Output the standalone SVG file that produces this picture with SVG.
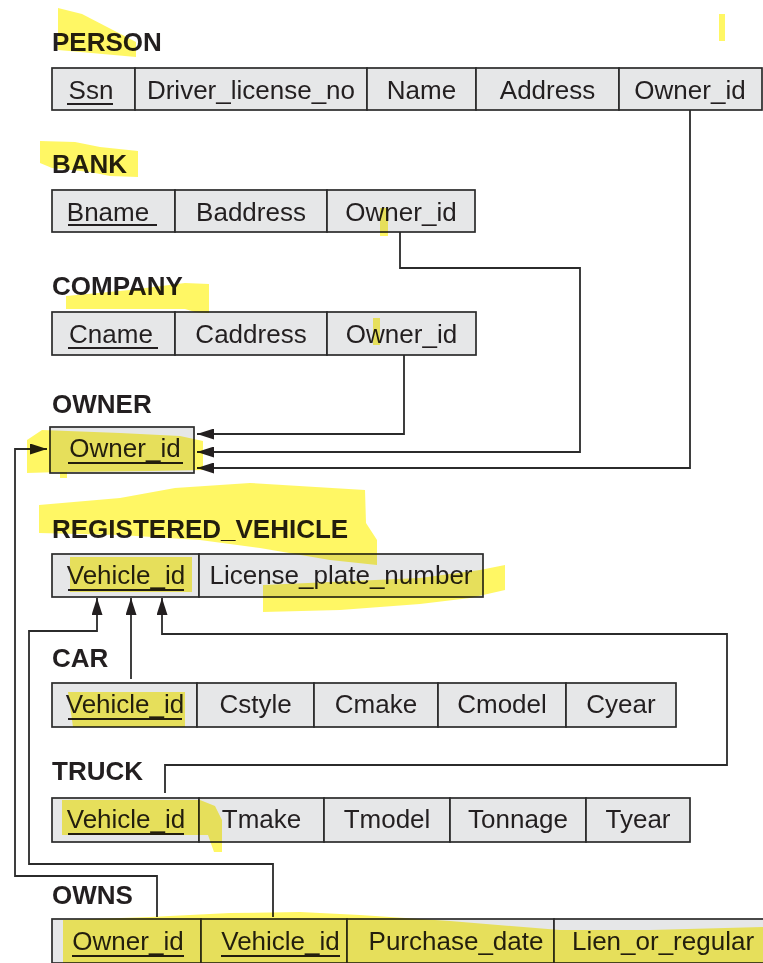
<svg xmlns="http://www.w3.org/2000/svg" width="763" height="963" viewBox="0 0 763 963">
<style>
.title{font-family:"Liberation Sans",Arial,sans-serif;font-weight:bold;font-size:26px;fill:#231f20}
.cell{fill:#e6e7e8;stroke:#2b2b2b;stroke-width:1.7}
.t{font-family:"Liberation Sans",Arial,sans-serif;font-size:26px;fill:#231f20;text-anchor:middle}
.ul{stroke:#231f20;stroke-width:2}
.conn{fill:none;stroke:#2b2b2b;stroke-width:1.8}
.hl{fill:#fff31a;fill-opacity:0.68;mix-blend-mode:multiply}
</style>
<defs>
<marker id="arr" markerUnits="userSpaceOnUse" markerWidth="17" markerHeight="11" refX="17" refY="5.5" orient="auto">
<path d="M0,0 L17,5.5 L0,11 z" fill="#231f20"/>
</marker>
</defs>
<rect width="763" height="963" fill="#ffffff"/>

<g id="person">
<text class="title" x="52" y="51">PERSON</text>
<rect class="cell" x="52" y="68" width="83" height="42"/>
<rect class="cell" x="135" y="68" width="232" height="42"/>
<rect class="cell" x="367" y="68" width="109" height="42"/>
<rect class="cell" x="476" y="68" width="143" height="42"/>
<rect class="cell" x="619" y="68" width="143" height="42"/>
<text class="t" x="91" y="99">Ssn</text>
<line class="ul" x1="67" y1="104" x2="113" y2="104"/>
<text class="t" x="251" y="99">Driver_license_no</text>
<text class="t" x="421.5" y="99">Name</text>
<text class="t" x="547.5" y="99">Address</text>
<text class="t" x="690" y="99">Owner_id</text>
</g>

<g id="bank">
<text class="title" x="52" y="173">BANK</text>
<rect class="cell" x="52" y="190" width="123" height="42"/>
<rect class="cell" x="175" y="190" width="152" height="42"/>
<rect class="cell" x="327" y="190" width="148" height="42"/>
<text class="t" x="108" y="221">Bname</text>
<line class="ul" x1="68" y1="225" x2="157" y2="225"/>
<text class="t" x="251" y="221">Baddress</text>
<text class="t" x="401" y="221">Owner_id</text>
</g>

<g id="company">
<text class="title" x="52" y="295">COMPANY</text>
<rect class="cell" x="52" y="312" width="123" height="43"/>
<rect class="cell" x="175" y="312" width="152" height="43"/>
<rect class="cell" x="327" y="312" width="149" height="43"/>
<text class="t" x="111" y="343">Cname</text>
<line class="ul" x1="68" y1="348" x2="158" y2="348"/>
<text class="t" x="251" y="343">Caddress</text>
<text class="t" x="401.5" y="343">Owner_id</text>
</g>

<g id="owner">
<text class="title" x="52" y="413">OWNER</text>
<rect class="cell" x="50" y="427" width="144" height="46"/>
<text class="t" x="125" y="457">Owner_id</text>
<line class="ul" x1="68" y1="463" x2="183" y2="463"/>
</g>

<g id="registered_vehicle">
<text class="title" x="52" y="538">REGISTERED_VEHICLE</text>
<rect class="cell" x="52" y="554" width="147" height="43"/>
<rect class="cell" x="199" y="554" width="284" height="43"/>
<text class="t" x="126" y="584">Vehicle_id</text>
<line class="ul" x1="68" y1="590" x2="184" y2="590"/>
<text class="t" x="341" y="584">License_plate_number</text>
</g>

<g id="car">
<text class="title" x="52" y="667">CAR</text>
<rect class="cell" x="52" y="683" width="145" height="44"/>
<rect class="cell" x="197" y="683" width="117" height="44"/>
<rect class="cell" x="314" y="683" width="124" height="44"/>
<rect class="cell" x="438" y="683" width="128" height="44"/>
<rect class="cell" x="566" y="683" width="110" height="44"/>
<text class="t" x="125" y="713">Vehicle_id</text>
<line class="ul" x1="68" y1="719" x2="182" y2="719"/>
<text class="t" x="255.5" y="713">Cstyle</text>
<text class="t" x="376" y="713">Cmake</text>
<text class="t" x="502" y="713">Cmodel</text>
<text class="t" x="621" y="713">Cyear</text>
</g>

<g id="truck">
<text class="title" x="52" y="780">TRUCK</text>
<rect class="cell" x="52" y="798" width="147" height="44"/>
<rect class="cell" x="199" y="798" width="125" height="44"/>
<rect class="cell" x="324" y="798" width="126" height="44"/>
<rect class="cell" x="450" y="798" width="136" height="44"/>
<rect class="cell" x="586" y="798" width="104" height="44"/>
<text class="t" x="126" y="828">Vehicle_id</text>
<line class="ul" x1="68" y1="834" x2="184" y2="834"/>
<text class="t" x="261.5" y="828">Tmake</text>
<text class="t" x="387" y="828">Tmodel</text>
<text class="t" x="518" y="828">Tonnage</text>
<text class="t" x="638" y="828">Tyear</text>
</g>

<g id="owns">
<text class="title" x="52" y="904">OWNS</text>
<rect class="cell" x="52" y="919" width="149" height="44"/>
<rect class="cell" x="201" y="919" width="146" height="44"/>
<rect class="cell" x="347" y="919" width="207" height="44"/>
<rect class="cell" x="554" y="919" width="218" height="44"/>
<text class="t" x="128" y="950">Owner_id</text>
<line class="ul" x1="72" y1="956" x2="184" y2="956"/>
<text class="t" x="280.5" y="950">Vehicle_id</text>
<line class="ul" x1="221" y1="956" x2="340" y2="956"/>
<text class="t" x="456" y="950">Purchase_date</text>
<text class="t" x="663" y="950">Lien_or_regular</text>
</g>

<g id="connectors">
<path class="conn" d="M404,355 V434 H197" marker-end="url(#arr)"/>
<path class="conn" d="M400,232 V268 H580 V452 H197" marker-end="url(#arr)"/>
<path class="conn" d="M690,110 V468 H197" marker-end="url(#arr)"/>
<path class="conn" d="M157,917 V876 H15 V449 H47" marker-end="url(#arr)"/>
<path class="conn" d="M273,917 V864 H29 V631 H97 V598" marker-end="url(#arr)"/>
<path class="conn" d="M131,679 V598" marker-end="url(#arr)"/>
<path class="conn" d="M165,793 V765 H727 V634 H162 V598" marker-end="url(#arr)"/>
</g>

<g id="highlights">
<polygon class="hl" points="58,8 82,14 136,42 136,57 58,50"/>
<rect class="hl" x="719" y="14" width="6" height="27"/>
<polygon class="hl" points="40,141 75,142 100,147 138,151 138,177 110,176 90,172 52,168 40,163"/>
<rect class="hl" x="380" y="208" width="8" height="28"/>
<polygon class="hl" points="66,296 130,290 185,283 209,284 209,313 195,312 185,309 66,309"/>
<rect class="hl" x="373" y="318" width="7" height="27"/>
<polygon class="hl" points="27,440 42,430 120,433 180,436 203,441 203,470 150,471 67,472 67,478 60,478 60,472 27,473"/>
<polygon class="hl" points="39,505 120,498 175,488 250,483 365,490 366,523 377,540 377,565 330,560 260,548 200,540 120,535 39,533"/>
<polygon class="hl" points="70,557 192,557 192,592 70,592"/>
<polygon class="hl" points="263,585 420,578 480,570 505,565 505,590 470,598 420,604 340,610 263,612"/>
<polygon class="hl" points="68,692 185,692 185,727 73,727"/>
<polygon class="hl" points="62,800 200,800 215,806 222,820 222,852 214,852 208,835 62,835"/>
<polygon class="hl" points="63,920 150,917 230,913 300,912 360,915 450,921 560,930 650,930 763,927 763,963 63,963"/>
</g>
</svg>
